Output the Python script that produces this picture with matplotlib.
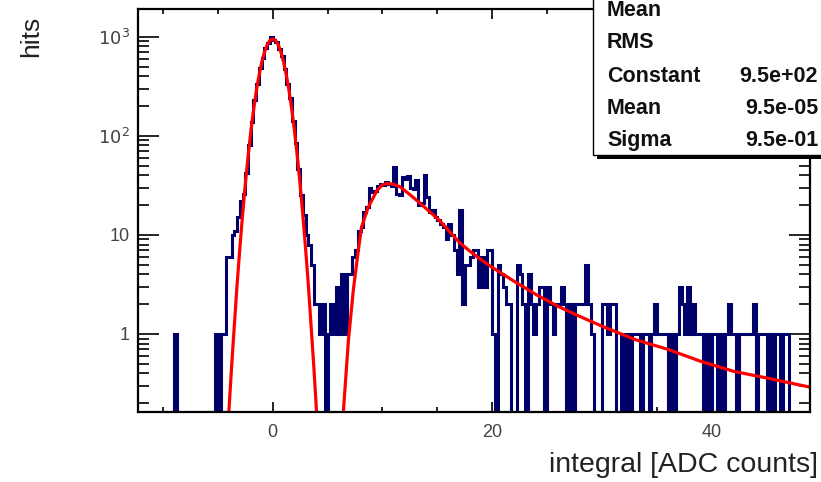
import numpy as np
import matplotlib
matplotlib.use('Agg')
import matplotlib.pyplot as plt
from matplotlib.ticker import MultipleLocator, LogLocator, FixedLocator, FixedFormatter, NullFormatter
from matplotlib.patches import Rectangle

plt.rcParams['font.family'] = ['Liberation Sans', 'DejaVu Sans']

# histogram: 0.25 wide bins starting at -12.25
hist_lo = -12.25
bin_w = 0.25
counts = [0,
          0, 0, 0, 0,      # -12
          0, 0, 0, 0,      # -11
          0, 0, 0, 0,      # -10
          1, 0, 0, 0,      # -9
          0, 0, 0, 0,      # -8
          0, 0, 0, 0,      # -7
          0, 0, 0, 1,      # -6
          0, 1, 1, 6,      # -5
          6, 10, 11, 15,   # -4
          22, 26, 42, 80,  # -3
          138, 232, 330, 485,  # -2
          610, 775, 870, 985,  # -1
          930, 880, 760, 640,  # 0
          470, 330, 238, 140,  # 1
          85, 46, 25, 16,  # 2
          10, 8, 5, 2,     # 3
          2, 1, 2, 0,      # 4
          1, 2, 1, 3,      # 5
          1, 4, 1, 4,      # 6
          4, 6, 7, 11,     # 7
          12, 17, 19, 30,  # 8
          27, 28, 31, 33,  # 9
          32, 34, 33, 31,  # 10
          48, 26, 25, 38,  # 11
          37, 39, 30, 29,  # 12
          36, 20, 21, 40,  # 13
          24, 17, 18, 15,  # 14
          14, 13, 12, 9,   # 15
          13, 10, 7, 4,    # 16
          18, 2, 5, 5,     # 17
          6, 7, 7, 3,      # 18
          6, 3, 7, 7,      # 19
          1, 0, 5, 4,      # 20
          3, 2, 2, 0,      # 21
          0, 5, 4, 2,      # 22
          0, 4, 2, 1,      # 23
          2, 3, 3, 0,      # 24
          3, 2, 1, 2,      # 25
          2, 3, 2, 0,      # 26
          2, 0, 2, 2,      # 27
          2, 2, 5, 2,      # 28
          1, 0, 0, 0,      # 29
          2, 2, 1, 2,      # 30
          2, 0, 0, 1,      # 31
          0, 1, 0, 1,      # 32
          1, 1, 0, 1,      # 33
          1, 0, 1, 2,      # 34
          1, 1, 1, 1,      # 35
          0, 1, 0, 1,      # 36
          3, 2, 1, 3,      # 37
          1, 2, 1, 1,      # 38
          1, 0, 1, 0,      # 39
          1, 1, 0, 1,      # 40
          0, 1, 2, 1,      # 41
          1, 0, 1, 1,      # 42
          1, 1, 1, 2,      # 43
          0, 1, 1, 1,      # 44
          0, 1, 0, 1,      # 45
          1, 0, 1, 1,      # 46
          0, 0, 0, 0,      # 47
          0, 0, 0, 0]      # 48

# fit curve
fit_x = [-4.3, -4.0, -3.75, -3.5, -3.25, -3.0, -2.75, -2.5, -2.25, -2.0, -1.75, -1.5,
         -1.25, -1.0, -0.75, -0.5, -0.25, 0.0, 0.25, 0.5, 0.75, 1.0, 1.25, 1.5, 1.75,
         2.0, 2.25, 2.5, 2.75, 3.0, 3.25, 3.5, 3.75, 4.0, 4.3, 5.3, 6.2, 6.43, 6.9,
         7.35, 7.8, 8.1, 8.7, 9.5, 10.0, 10.4, 11.0, 11.6, 12.5, 13.4, 15.2, 17.0,
         18.0, 19.0, 20.0, 22.0, 24.0, 26.0, 28.0, 30.0, 33.0, 36.0, 39.0, 42.0, 45.0, 49.0]
fit_y = [0.05, 0.16, 0.46, 1.2, 3.1, 7.2, 15.7, 32, 61, 109, 180, 280,
         405, 550, 700, 830, 920, 950, 920, 830, 700, 550, 405, 280, 180,
         109, 61, 32, 15.7, 7.2, 3.1, 1.2, 0.46, 0.16, 0.05, 0.01, 0.05, 0.16, 0.87,
         2.8, 7.0, 12, 19, 28, 32, 33, 32.5, 30.6, 25.5, 21, 14, 8.4,
         6.8, 5.6, 4.7, 3.4, 2.5, 1.9, 1.5, 1.2, 0.88, 0.7, 0.53, 0.42, 0.36, 0.29]

stat_names = ['Mean', 'RMS', 'Constant', 'Mean', 'Sigma']
stat_values = ['', '', '9.5e+02', '9.5e-05', '9.5e-01']

ymin, ymax = 0.1614, 1890
navy = '#00006b'

fig = plt.figure(figsize=(8.21, 4.82), dpi=100)
ax = fig.add_axes([0.1684, 0.1442, 0.9872 - 0.1684, 0.9807 - 0.1442])

edges = hist_lo + bin_w * np.arange(len(counts) + 1)
vals = np.maximum(np.array(counts, dtype=float), ymin)
ax.stairs(vals, edges, baseline=ymin, color=navy, lw=2.2, zorder=2)
ax.plot(fit_x, fit_y, color='red', lw=2.3, zorder=3)

ax.set_yscale('log')
ax.set_xlim(-12.25, 49.0)
ax.set_ylim(ymin, ymax)

ax.xaxis.set_major_locator(MultipleLocator(20))
ax.xaxis.set_minor_locator(MultipleLocator(5))
ax.yaxis.set_major_locator(FixedLocator([1, 10, 100, 1000]))
ax.yaxis.set_major_formatter(FixedFormatter(['1', '10', r'$10^{2}$', r'$10^{3}$']))
ax.yaxis.set_minor_locator(LogLocator(base=10, subs=np.arange(2, 10)))
ax.yaxis.set_minor_formatter(NullFormatter())

ax.tick_params(axis='both', which='both', direction='in', top=True, right=True,
               labelsize=13, labelcolor='#444444', width=1.2)
ax.tick_params(axis='x', which='major', length=7.5, pad=8)
ax.tick_params(axis='x', which='minor', length=3.8)
ax.tick_params(axis='y', which='major', length=15, pad=6)
ax.tick_params(axis='y', which='minor', length=8)
for s in ax.spines.values():
    s.set_linewidth(1.6)
    s.set_zorder(4)

# axis titles, ROOT style
fig.text(818 / 821, 1 - 465 / 482, 'integral [ADC counts]', ha='right', va='center',
         fontsize=20.5, color='#222222')
fig.text(31 / 821, 1 - 16 / 482, 'hits', rotation=90, ha='center', va='top',
         fontsize=19, color='#222222')

# stats box with shadow
bx0, by0 = 593 / 821, 1 - 155 / 482
fig.patches.append(Rectangle((bx0 + 4 / 821, by0 - 4 / 482), 0.5, 0.5,
                             transform=fig.transFigure, facecolor='black',
                             edgecolor='none', zorder=5))
fig.patches.append(Rectangle((bx0, by0), 0.5, 0.5, transform=fig.transFigure,
                             facecolor='white', edgecolor='black', lw=1.0, zorder=6))
row_y = [11, 43, 76, 108, 140]
for name, val, yy in zip(stat_names, stat_values, row_y):
    fig.text(607 / 821, 1 - yy / 482, name, ha='left', va='center', fontsize=15.5,
             fontweight='bold', color='#111111', zorder=7)
    fig.text(818 / 821, 1 - yy / 482, val, ha='right', va='center', fontsize=15.5,
             fontweight='bold', color='#111111', zorder=7)

fig.savefig('out.png', dpi=100)
